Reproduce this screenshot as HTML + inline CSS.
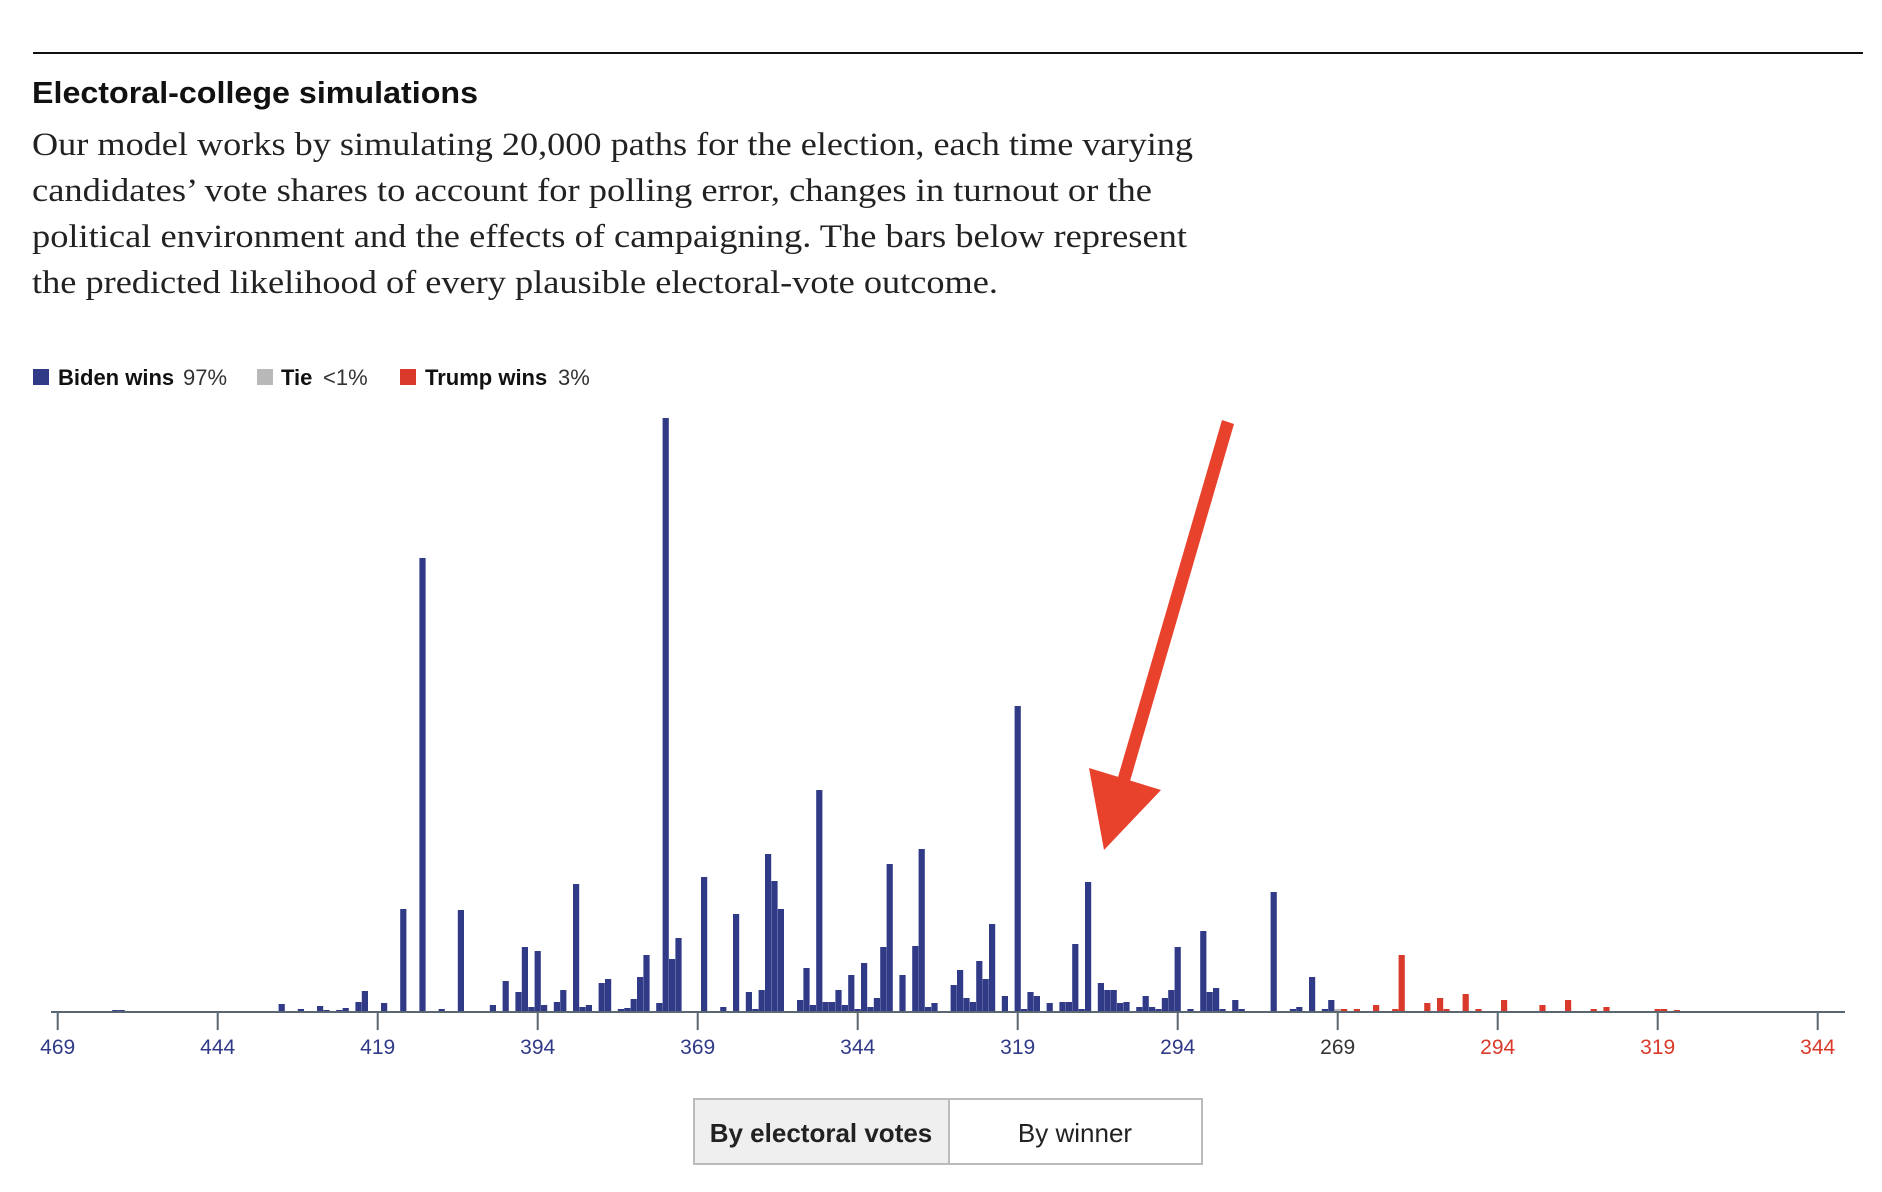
<!DOCTYPE html>
<html><head><meta charset="utf-8"><style>
html,body{margin:0;padding:0;background:#fff;width:1882px;height:1192px;overflow:hidden}
svg{display:block}
</style></head><body>
<svg id="s" width="1882" height="1192" xmlns="http://www.w3.org/2000/svg" font-family="Liberation Sans, sans-serif">
<rect x="33" y="52" width="1830" height="2" fill="#111"/>
<text x="32" y="103" font-size="31" font-weight="bold" fill="#111" textLength="446" lengthAdjust="spacingAndGlyphs">Electoral-college simulations</text>
<g font-family="Liberation Serif, serif" font-size="33" fill="#222">
<text x="32" y="155" textLength="1161" lengthAdjust="spacingAndGlyphs">Our model works by simulating 20,000 paths for the election, each time varying</text>
<text x="32" y="201" textLength="1120" lengthAdjust="spacingAndGlyphs">candidates’ vote shares to account for polling error, changes in turnout or the</text>
<text x="32" y="247" textLength="1155" lengthAdjust="spacingAndGlyphs">political environment and the effects of campaigning. The bars below represent</text>
<text x="32" y="293" textLength="966" lengthAdjust="spacingAndGlyphs">the predicted likelihood of every plausible electoral-vote outcome.</text>
</g>
<g font-size="22">
<rect x="33" y="369" width="16" height="16" fill="#303a87"/>
<text x="58" y="385" font-weight="bold" fill="#111">Biden wins</text>
<text x="183" y="385" fill="#333">97%</text>
<rect x="257" y="369" width="16" height="16" fill="#b8b8b8"/>
<text x="281" y="385" font-weight="bold" fill="#111">Tie</text>
<text x="323" y="385" fill="#333">&lt;1%</text>
<rect x="400" y="369" width="16" height="16" fill="#d93a2b"/>
<text x="425" y="385" font-weight="bold" fill="#111">Trump wins</text>
<text x="558" y="385" fill="#333">3%</text>
</g>
<g id="bars"></g>
<rect x="51" y="1011" width="1794" height="2" fill="#5a6770"/>
<g id="ticks" font-size="21" text-anchor="middle"></g>
<polygon points="1222,420 1234,424 1128,788 1116,784" fill="#e8412c"/>
<polygon points="1089,768 1161,790 1104,850" fill="#e8412c"/>
<rect x="694" y="1099" width="255" height="65" fill="#efefef" stroke="#bbb" stroke-width="2"/>
<rect x="949" y="1099" width="253" height="65" fill="#fff" stroke="#bbb" stroke-width="2"/>
<text x="821" y="1142" font-size="26" font-weight="bold" text-anchor="middle" fill="#222">By electoral votes</text>
<text x="1075" y="1142" font-size="26" text-anchor="middle" fill="#222">By winner</text>
</svg>
<script>
var d="460:2,459:2,443:1,437:1,435:1,434:8,431:3,430:1,428:6,427:2,425:2,424:4,423:1,422:10,421:21,418:9,415:103,412:454,409:3,406:102,402:1,401:7,399:31,397:20,396:65,395:5,394:61,393:7,391:10,390:22,389:1,388:128,387:5,386:7,384:29,383:33,382:1,381:3,380:4,379:13,378:35,377:57,375:9,374:594,373:53,372:74,371:1,368:135,367:1,366:1,365:5,363:98,362:1,361:20,360:3,359:22,358:158,357:131,356:103,355:1,353:12,352:44,351:7,350:222,349:10,348:10,347:22,346:7,345:37,344:3,343:49,342:5,341:14,340:65,339:148,338:1,337:37,335:66,334:163,333:5,332:9,331:1,330:1,329:27,328:42,327:14,326:10,325:51,324:33,323:88,321:16,319:306,318:3,317:20,316:16,315:1,314:9,313:1,312:10,311:10,310:68,309:3,308:130,307:1,306:29,305:22,304:22,303:9,302:10,301:1,300:5,299:16,298:5,297:3,296:14,295:22,294:65,292:3,290:81,289:20,288:24,287:3,285:12,284:3,279:120,276:3,275:5,273:35,272:1,271:3,270:12,269:3,268:3,267:1,266:3,265:1,264:1,263:7,262:1,261:1,260:3,259:57,258:1,257:1,256:1,255:9,254:1,253:14,252:3,249:18,247:3,245:1,243:12,237:7,235:1,233:12,232:1,229:3,227:5,226:1,223:1,222:1,220:1,219:3,218:3,216:2,199:1";
var g=document.getElementById("bars"),h="";
d.split(",").forEach(function(p){var a=p.split(":"),v=+a[0],hh=+a[1];var x=57.7+(469-v)*6.4-3.1;
var c=v>269?"#303a87":(v==269?"#b8b8b8":"#d93a2b");
h+='<rect x="'+x.toFixed(1)+'" y="'+(1012-hh)+'" width="6.2" height="'+hh+'" fill="'+c+'"/>';});
g.innerHTML=h;
var t=document.getElementById("ticks"),s="";
var labs=[469,444,419,394,369,344,319,294,269,294,319,344];
labs.forEach(function(l,i){var x=57.7+i*160;var c=i<8?"#303a87":(i==8?"#333":"#d93a2b");
s+='<rect x="'+(x-1)+'" y="1012" width="2" height="18" fill="#5a6770"/>';
s+='<text x="'+x+'" y="1054" fill="'+c+'">'+l+'</text>';});
t.innerHTML=s;
</script>
</body></html>
